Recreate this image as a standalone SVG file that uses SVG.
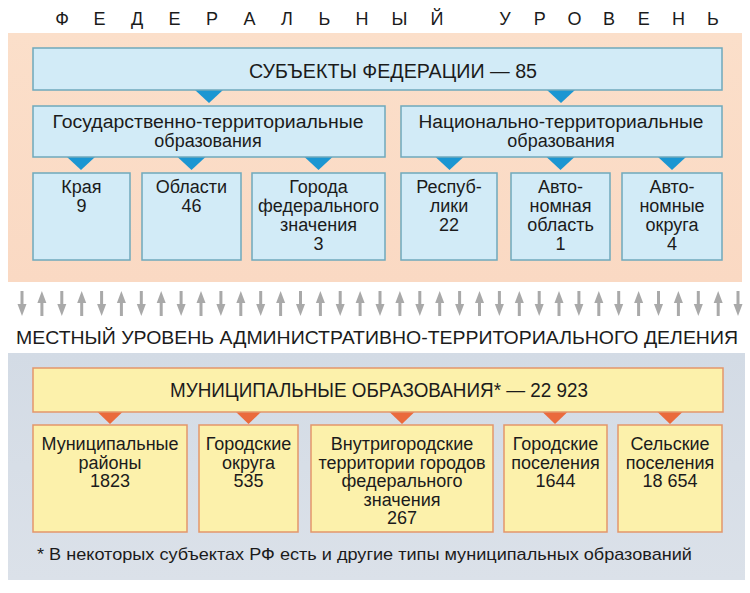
<svg xmlns="http://www.w3.org/2000/svg" xmlns:xlink="http://www.w3.org/1999/xlink" width="750" height="593" viewBox="0 0 750 593">
<defs>
<style>
text{font-family:"Liberation Sans",Arial,sans-serif;fill:#1b1b1b;text-anchor:middle;}
.t{font-size:18px;}
.head{font-size:20px;}
.bb{fill:#d2ebf7;stroke:#6fa9bc;stroke-width:1.5;}
.yb{fill:#fcf1ab;stroke:#e3966b;stroke-width:1.5;}
.bt{fill:#1b96d2;}
.ot{fill:#ea6a3c;}
.ar{fill:#a9a9a9;}
</style>
<linearGradient id="peach" x1="0" y1="0" x2="0" y2="1">
<stop offset="0" stop-color="#fbdfca"/>
<stop offset="1" stop-color="#fad9c3"/>
</linearGradient>
<linearGradient id="grey" x1="0" y1="0" x2="0" y2="1">
<stop offset="0" stop-color="#d3dbe5"/>
<stop offset="1" stop-color="#dbe1e9"/>
</linearGradient>
<g id="dn"><rect x="-1.5" y="291" width="3" height="15" class="ar"/><polygon points="-4.5,304 4.5,304 0,316" class="ar"/></g>
<g id="up"><rect x="-1.5" y="301" width="3" height="15" class="ar"/><polygon points="-4.5,303 4.5,303 0,291" class="ar"/></g>
</defs>

<rect width="750" height="593" fill="#ffffff"/>

<g id="federal-title" font-size="18">
<text x="62" y="25">Ф</text><text x="99.5" y="25">Е</text><text x="137" y="25">Д</text><text x="174.5" y="25">Е</text><text x="212" y="25">Р</text><text x="249.5" y="25">А</text><text x="287" y="25">Л</text><text x="324.5" y="25">Ь</text><text x="362" y="25">Н</text><text x="399.5" y="25">Ы</text><text x="437" y="25">Й</text>
<text x="505" y="25">У</text><text x="539.7" y="25">Р</text><text x="574.4" y="25">О</text><text x="609.1" y="25">В</text><text x="643.8" y="25">Е</text><text x="678.5" y="25">Н</text><text x="713" y="25">Ь</text>
</g>

<rect id="federal-bg" x="8" y="33" width="734" height="249" fill="url(#peach)"/>
<rect id="local-bg" x="8" y="353" width="737" height="227" fill="url(#grey)"/>

<g id="connectors">
<polygon class="bt" points="195,90 223,90 209,103"/>
<polygon class="bt" points="547,90 575,90 561,103"/>
<polygon class="bt" points="67,157 95,157 81,170"/>
<polygon class="bt" points="177.5,157 205.5,157 191.5,170"/>
<polygon class="bt" points="304.5,157 332.5,157 318.5,170"/>
<polygon class="bt" points="435.5,157 463.5,157 449.5,170"/>
<polygon class="bt" points="546.5,157 574.5,157 560.5,170"/>
<polygon class="bt" points="658,157 686,157 672,170"/>
<polygon class="ot" points="97.5,412 122.5,412 110,424"/>
<polygon class="ot" points="236,412 261,412 248.5,424"/>
<polygon class="ot" points="389.5,412 414.5,412 402,424"/>
<polygon class="ot" points="542.5,412 567.5,412 555,424"/>
<polygon class="ot" points="657.5,412 682.5,412 670,424"/>
</g>

<g id="arrows">
<use xlink:href="#dn" x="22"/><use xlink:href="#up" x="41.9"/><use xlink:href="#dn" x="61.8"/><use xlink:href="#up" x="81.7"/><use xlink:href="#dn" x="101.6"/><use xlink:href="#up" x="121.4"/><use xlink:href="#dn" x="141.3"/><use xlink:href="#up" x="161.2"/><use xlink:href="#dn" x="181.1"/><use xlink:href="#up" x="201"/><use xlink:href="#dn" x="220.9"/><use xlink:href="#up" x="240.8"/><use xlink:href="#dn" x="260.7"/><use xlink:href="#up" x="280.6"/><use xlink:href="#dn" x="300.5"/><use xlink:href="#up" x="320.4"/><use xlink:href="#dn" x="340.2"/><use xlink:href="#up" x="360.1"/><use xlink:href="#dn" x="380"/><use xlink:href="#up" x="399.9"/><use xlink:href="#dn" x="419.8"/><use xlink:href="#up" x="439.7"/><use xlink:href="#dn" x="459.6"/><use xlink:href="#up" x="479.5"/><use xlink:href="#dn" x="499.4"/><use xlink:href="#up" x="519.3"/><use xlink:href="#dn" x="539.2"/><use xlink:href="#up" x="559"/><use xlink:href="#dn" x="578.9"/><use xlink:href="#up" x="598.8"/><use xlink:href="#dn" x="618.7"/><use xlink:href="#up" x="638.6"/><use xlink:href="#dn" x="658.5"/><use xlink:href="#up" x="678.4"/><use xlink:href="#dn" x="698.3"/><use xlink:href="#up" x="718.2"/><use xlink:href="#dn" x="738"/>
</g>

<text id="local-title" x="377" y="344" font-size="19" textLength="722" lengthAdjust="spacingAndGlyphs">МЕСТНЫЙ УРОВЕНЬ АДМИНИСТРАТИВНО-ТЕРРИТОРИАЛЬНОГО ДЕЛЕНИЯ</text>

<g id="subjects">
<rect class="bb" x="33" y="48" width="689" height="42"/>
<text class="head" x="393" y="78" textLength="288" lengthAdjust="spacingAndGlyphs">СУБЪЕКТЫ ФЕДЕРАЦИИ — 85</text>
</g>
<g id="state-territorial">
<rect class="bb" x="33" y="106" width="352" height="51"/>
<text class="t" x="208" y="127.5" textLength="311" lengthAdjust="spacingAndGlyphs">Государственно-территориальные</text>
<text class="t" x="208" y="147">образования</text>
</g>
<g id="national-territorial">
<rect class="bb" x="401" y="106" width="321" height="51"/>
<text class="t" x="561" y="127.5" textLength="285" lengthAdjust="spacingAndGlyphs">Национально-территориальные</text>
<text class="t" x="561" y="147">образования</text>
</g>
<g id="kraya">
<rect class="bb" x="33" y="173" width="97" height="87"/>
<text class="t" x="81.5" y="193">Края</text><text class="t" x="81.5" y="212">9</text>
</g>
<g id="oblasti">
<rect class="bb" x="142" y="173" width="99" height="87"/>
<text class="t" x="191.5" y="193">Области</text><text class="t" x="191.5" y="212">46</text>
</g>
<g id="federal-cities">
<rect class="bb" x="252" y="173" width="133" height="87"/>
<text class="t" x="318.5" y="193">Города</text><text class="t" x="318.5" y="212">федерального</text><text class="t" x="318.5" y="231">значения</text><text class="t" x="318.5" y="250">3</text>
</g>
<g id="republics">
<rect class="bb" x="401" y="173" width="96" height="87"/>
<text class="t" x="449" y="193">Респуб-</text><text class="t" x="449" y="212">лики</text><text class="t" x="449" y="231">22</text>
</g>
<g id="autonomous-oblast">
<rect class="bb" x="511" y="173" width="99" height="87"/>
<text class="t" x="560.5" y="193">Авто-</text><text class="t" x="560.5" y="212">номная</text><text class="t" x="560.5" y="231">область</text><text class="t" x="560.5" y="250">1</text>
</g>
<g id="autonomous-okrugs">
<rect class="bb" x="622" y="173" width="100" height="87"/>
<text class="t" x="672" y="193">Авто-</text><text class="t" x="672" y="212">номные</text><text class="t" x="672" y="231">округа</text><text class="t" x="672" y="250">4</text>
</g>

<g id="municipal">
<rect class="yb" x="33" y="368" width="690" height="44"/>
<text class="head" x="379" y="397" textLength="418" lengthAdjust="spacingAndGlyphs">МУНИЦИПАЛЬНЫЕ ОБРАЗОВАНИЯ* — 22 923</text>
</g>
<g id="municipal-districts">
<rect class="yb" x="33" y="425" width="154" height="107"/>
<text class="t" x="110" y="450">Муниципальные</text><text class="t" x="110" y="468.5">районы</text><text class="t" x="110" y="487">1823</text>
</g>
<g id="urban-okrugs">
<rect class="yb" x="199" y="425" width="99" height="107"/>
<text class="t" x="248.5" y="450">Городские</text><text class="t" x="248.5" y="468.5">округа</text><text class="t" x="248.5" y="487">535</text>
</g>
<g id="intracity">
<rect class="yb" x="311" y="425" width="182" height="107"/>
<text class="t" x="402" y="450">Внутригородские</text><text class="t" x="402" y="468.5">территории городов</text><text class="t" x="402" y="487">федерального</text><text class="t" x="402" y="505.5">значения</text><text class="t" x="402" y="524">267</text>
</g>
<g id="urban-settlements">
<rect class="yb" x="504" y="425" width="103" height="107"/>
<text class="t" x="555.5" y="450">Городские</text><text class="t" x="555.5" y="468.5">поселения</text><text class="t" x="555.5" y="487">1644</text>
</g>
<g id="rural-settlements">
<rect class="yb" x="618" y="425" width="104" height="107"/>
<text class="t" x="670" y="450">Сельские</text><text class="t" x="670" y="468.5">поселения</text><text class="t" x="670" y="487">18 654</text>
</g>

<text id="footnote" x="364.5" y="560" font-size="17" textLength="655" lengthAdjust="spacingAndGlyphs">* В некоторых субъектах РФ есть и другие типы муниципальных образований</text>
</svg>
